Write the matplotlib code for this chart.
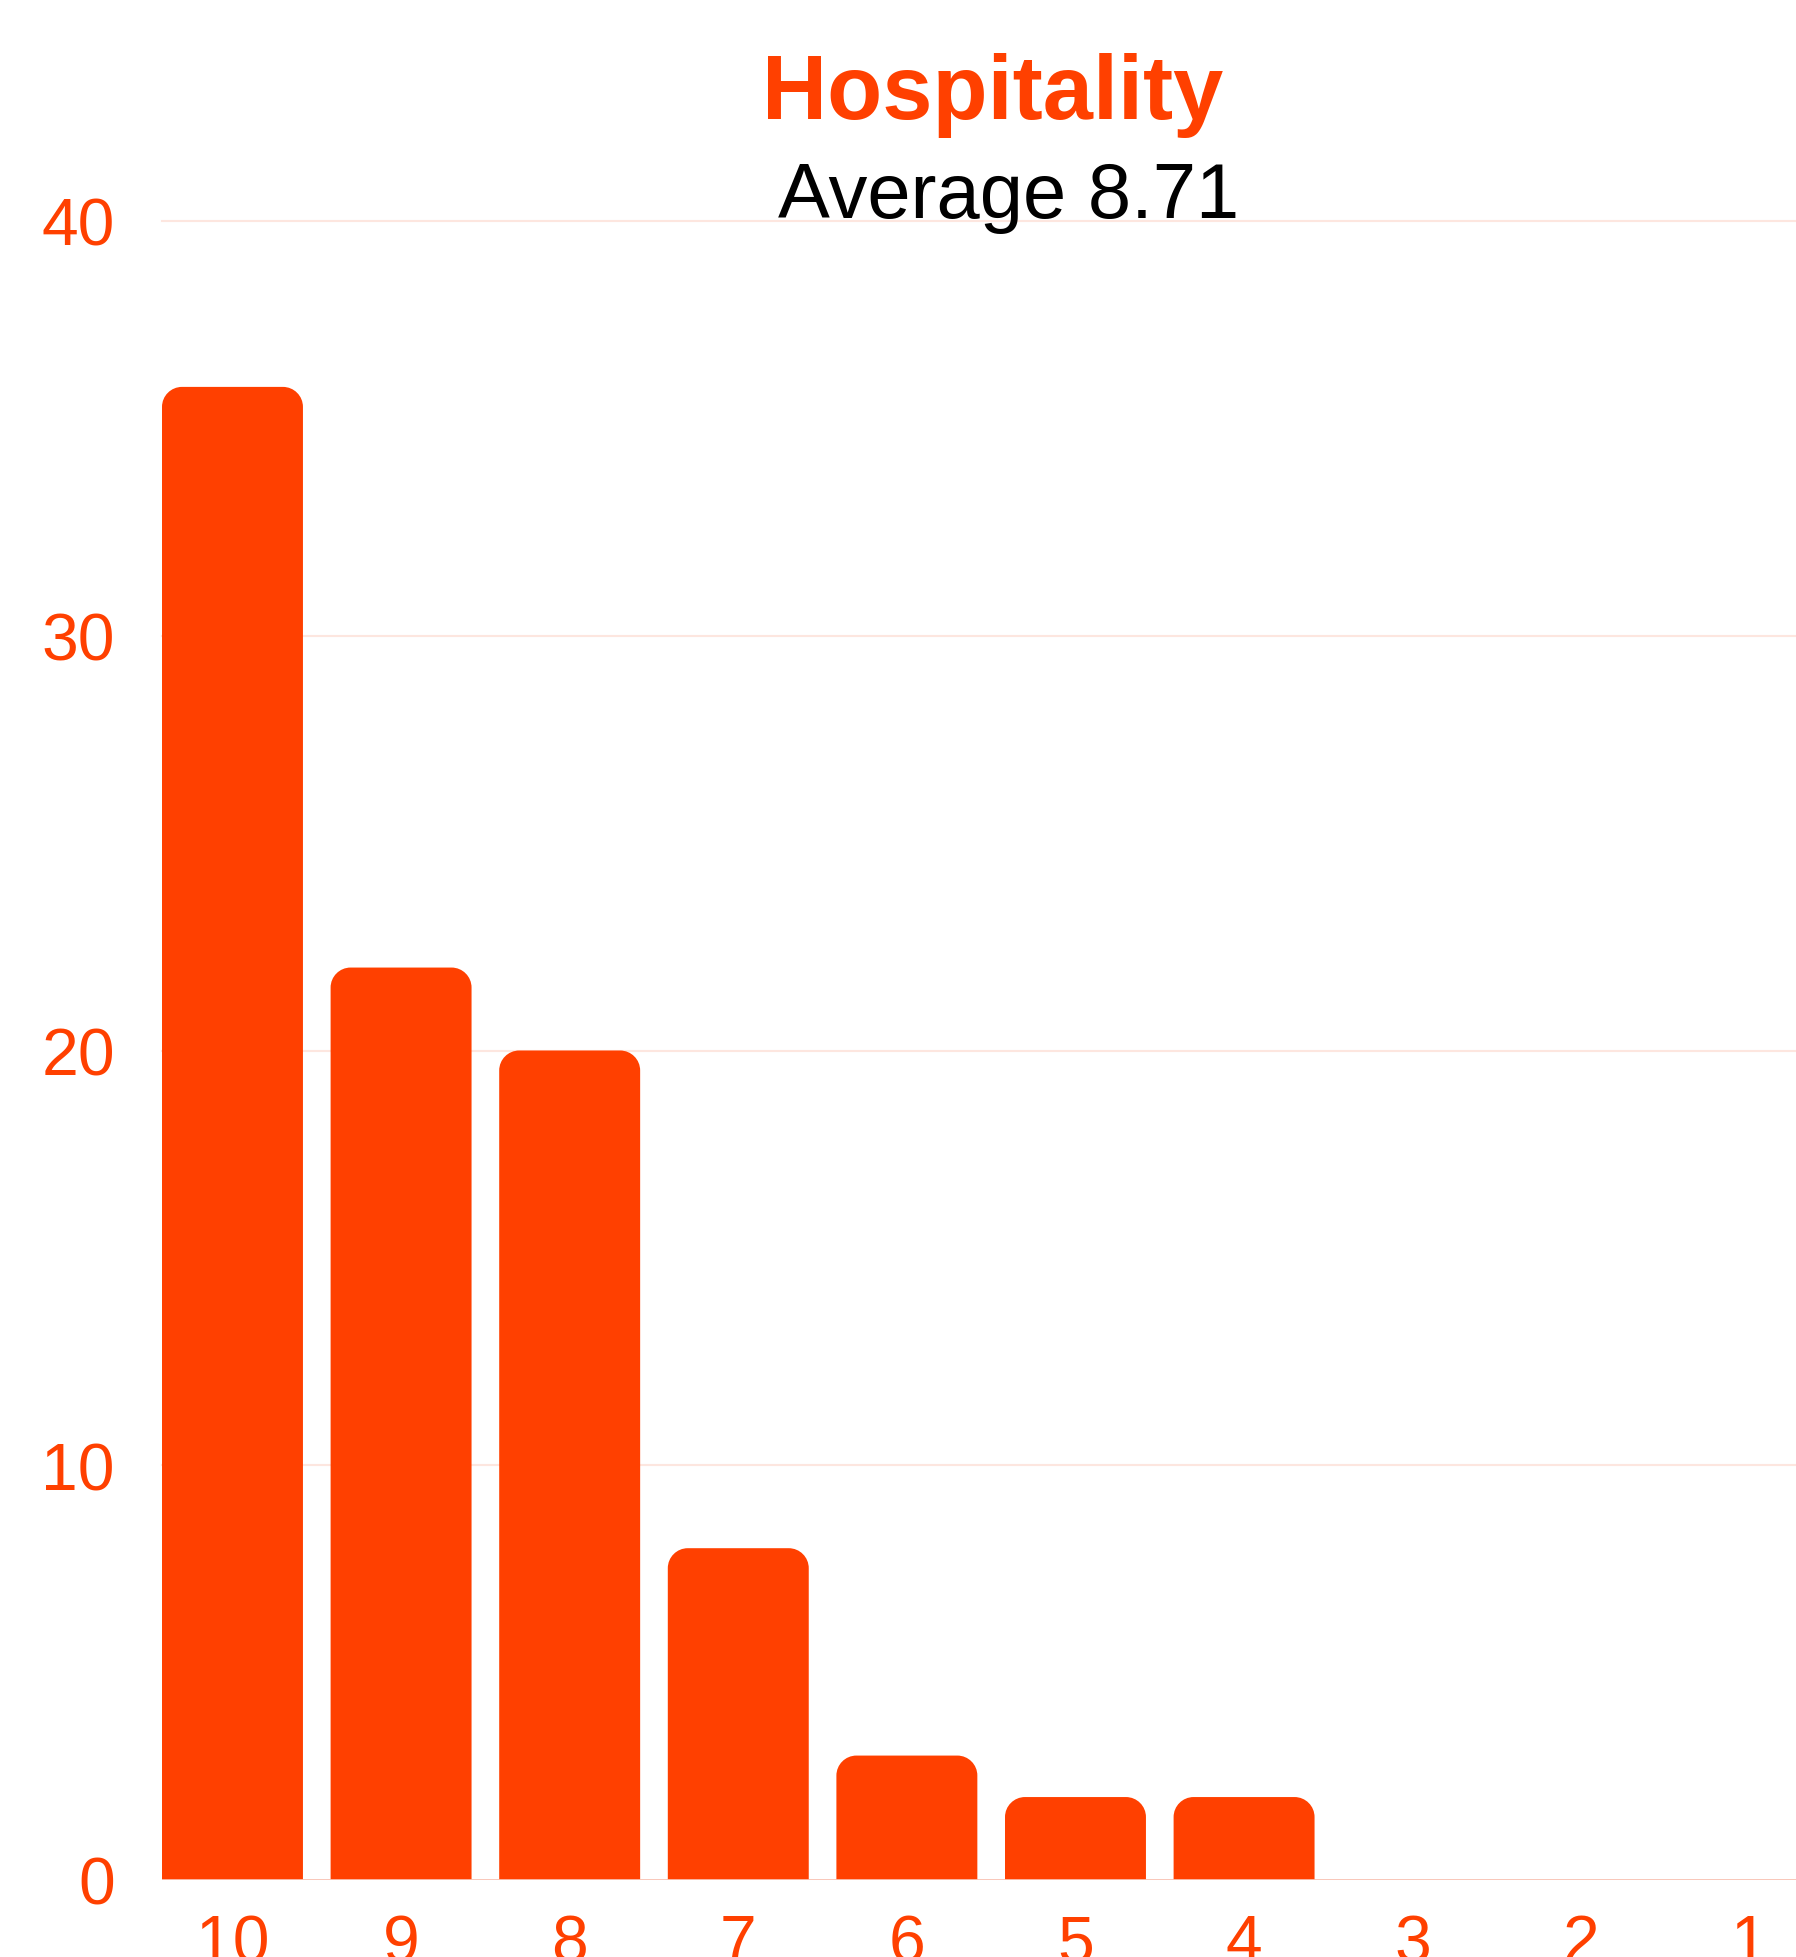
import matplotlib
matplotlib.use("Agg")
import matplotlib.pyplot as plt
from matplotlib.patches import PathPatch
from matplotlib.path import Path

plt.rcParams["font.family"] = ["Liberation Sans", "DejaVu Sans"]

ORANGE = "#ff4000"
GRID = "#fde6df"
BASE = "#f8c2b3"

scores = ["10", "9", "8", "7", "6", "5", "4", "3", "2", "1"]
counts = [36, 22, 20, 8, 3, 2, 2, 0, 0, 0]
y_ticks = [0, 10, 20, 30, 40]
title = "Hospitality"
subtitle = "Average 8.71"

W, H = 1796, 1958
fig = plt.figure(figsize=(W / 100, H / 100), dpi=100)
ax = fig.add_axes([162 / W, 1 - 1881 / H, 1634 / W, (1881 - 222) / H])

bar_w = 0.836
slot_px = 168.6
unit_px = (1881 - 222) / 40
x = list(range(len(scores)))
ax.set_xlim(-bar_w / 2, -bar_w / 2 + 1634 / slot_px)
ax.set_ylim(0, 40)


def top_rounded(x0, w, h, rx, ry):
    # rectangle with rounded top corners (bezier quarter circles)
    k = 0.5523
    x1 = x0 + w
    verts = [
        (x0, 0), (x0, h - ry),
        (x0, h - ry + k * ry), (x0 + rx - k * rx, h), (x0 + rx, h),
        (x1 - rx, h),
        (x1 - rx + k * rx, h), (x1, h - ry + k * ry), (x1, h - ry),
        (x1, 0), (x0, 0),
    ]
    codes = [Path.MOVETO, Path.LINETO,
             Path.CURVE4, Path.CURVE4, Path.CURVE4,
             Path.LINETO,
             Path.CURVE4, Path.CURVE4, Path.CURVE4,
             Path.LINETO, Path.CLOSEPOLY]
    return Path(verts, codes)


rx = 20 / slot_px
ry = 20 / unit_px
bars = ax.bar(x, counts, width=bar_w, color=ORANGE, zorder=2, linewidth=0)
for b, h in zip(bars, counts):
    b.set_visible(False)
    if h <= 0:
        continue
    r_y = min(ry, h)
    ax.add_patch(PathPatch(top_rounded(b.get_x(), b.get_width(), h, rx, r_y),
                           facecolor=ORANGE, edgecolor="none", zorder=2))

for t in y_ticks[1:]:
    ax.axhline(t, color=GRID, lw=1.5, zorder=1, clip_on=False)
ax.axhline(0, color=BASE, lw=2, zorder=3)

ax.set_xticks(x)
ax.set_xticklabels(scores)
ax.set_yticks(y_ticks)
ax.tick_params(axis="both", length=0, labelsize=47.5, colors=ORANGE)
ax.tick_params(axis="y", pad=34)
ax.tick_params(axis="x", pad=24)
for s in ax.spines.values():
    s.set_visible(False)

fig.text(993 / W, 1 - 119 / H, title, ha="center", va="baseline",
         fontsize=65, fontweight="bold", color=ORANGE)
fig.text(1009 / W, 1 - 218 / H, subtitle, ha="center", va="baseline",
         fontsize=56, color="black")

fig.savefig("out.png", dpi=100)
